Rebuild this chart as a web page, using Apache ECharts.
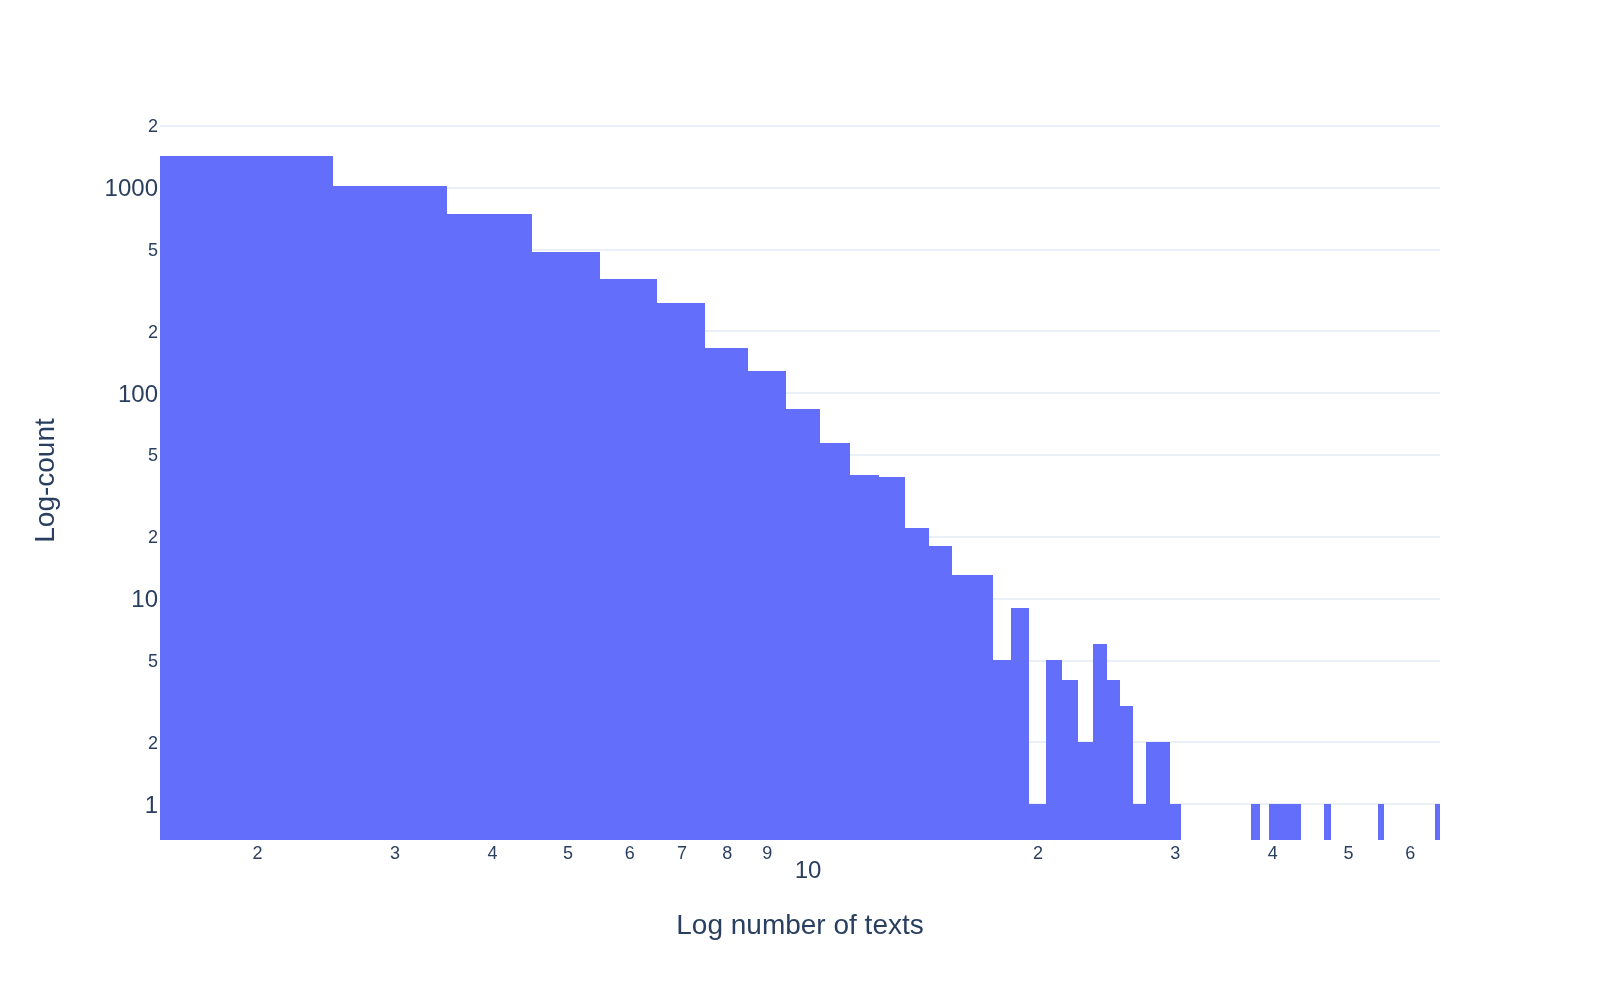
<!DOCTYPE html>
<html>
<head>
<meta charset="utf-8">
<script src="https://cdn.jsdelivr.net/npm/echarts@6/dist/echarts.min.js"></script>
<style>
html,body{margin:0;padding:0;background:#fff;}
#chart{width:1600px;height:1000px;}
</style>
</head>
<body>
<div id="chart"></div>
<script>
// Histogram bins (number of texts), each bin is width 1 centred on the integer
const binCenters = [2,3,4,5,6,7,8,9,10,11,12,13,14,15,16,17,18,19,20,21,22,23,24,25,26,27,28,29,30,31,32,33,34,35,36,37,38,39,40,41,42,43,44,45,46,47,48,49,50,51,52,53,54,55,56,57,58,59,60,61,62,63,64,65];
const counts     = [1423,1017,743,486,359,274,165,128,84,57,40,39,22,18,13,13,5,9,1,5,4,2,6,4,3,1,2,2,1,0,0,0,0,0,0,0,1,0,1,1,1,1,0,0,0,1,0,0,0,0,0,0,0,1,0,0,0,0,0,0,0,0,0,1];
const binWidth = 1;
const xRange = [1.5, 65.5];
const yRange = [0.668, 2107];
const xTickValues = [2,3,4,5,6,7,8,9,10,20,30,40,50,60];
const yTickValues = [1,2,5,10,20,50,100,200,500,1000,2000];
const xTitle = 'Log number of texts';
const yTitle = 'Log-count';

const L = Math.log10;
const FONT = '"Liberation Sans", Arial, sans-serif';
const TXT = '#2a3f5f';
const yMin = L(yRange[0]);

const data = [];
binCenters.forEach((c, i) => {
  if (counts[i] > 0) data.push([c, counts[i]]);
});

function isPow10(n){ const l = L(n); return Math.abs(l - Math.round(l)) < 1e-9; }
function lead(n){ return String(n)[0]; }

const chart = echarts.init(document.getElementById('chart'), null, {renderer: 'canvas'});
chart.setOption({
  animation: false,
  backgroundColor: '#fff',
  grid: {left: 160, right: 160, top: 121, bottom: 160, containLabel: false},
  xAxis: {
    type: 'value',
    min: L(xRange[0]),
    max: L(xRange[1]),
    name: xTitle,
    nameLocation: 'middle',
    nameGap: 72,
    nameTextStyle: {fontFamily: FONT, fontSize: 28, color: TXT},
    axisLine: {show: false},
    axisTick: {show: false, customValues: xTickValues.map(L)},
    splitLine: {show: false},
    axisLabel: {
      customValues: xTickValues.map(L),
      margin: 5,
      formatter: function (v) {
        const n = Math.round(Math.pow(10, v));
        return isPow10(n) ? '{maj|' + n + '}' : '{min|' + lead(n) + '}';
      },
      rich: {
        min: {fontFamily: FONT, fontSize: 18, color: TXT, lineHeight: 18},
        maj: {fontFamily: FONT, fontSize: 24, color: TXT, lineHeight: 24, padding: [29, 0, 0, 10]}
      }
    }
  },
  yAxis: {
    type: 'value',
    min: yMin,
    max: L(yRange[1]),
    name: yTitle,
    nameLocation: 'middle',
    nameGap: 100,
    nameRotate: 90,
    nameTextStyle: {fontFamily: FONT, fontSize: 28, color: TXT},
    axisLine: {show: false},
    axisTick: {show: false, customValues: yTickValues.map(L)},
    splitLine: {show: true, lineStyle: {color: '#ebf0f8', width: 2}},
    axisLabel: {
      customValues: yTickValues.map(L),
      margin: 2,
      formatter: function (v) {
        const n = Math.round(Math.pow(10, v));
        return isPow10(n) ? '{maj|' + n + '}' : '{min|' + lead(n) + '}';
      },
      rich: {
        min: {fontFamily: FONT, fontSize: 18, color: TXT, padding: [3, 0, 0, 0]},
        maj: {fontFamily: FONT, fontSize: 24, color: TXT, padding: [4, 0, 0, 0]}
      }
    }
  },
  series: [{
    type: 'custom',
    clip: true,
    data: data,
    encode: {x: 0, y: 1},
    renderItem: function (params, api) {
      const c = api.value(0), n = api.value(1);
      const p1 = api.coord([L(c - binWidth / 2), L(n)]);
      const p2 = api.coord([L(c + binWidth / 2), yMin]);
      const x0 = Math.round(p1[0]), x1 = Math.round(p2[0]);
      const y0 = Math.round(p1[1]), y1 = Math.round(p2[1]);
      return {
        type: 'rect',
        shape: {x: x0, y: y0, width: x1 - x0, height: y1 - y0},
        style: {fill: '#636efa'}
      };
    }
  }]
});
</script>
</body>
</html>
